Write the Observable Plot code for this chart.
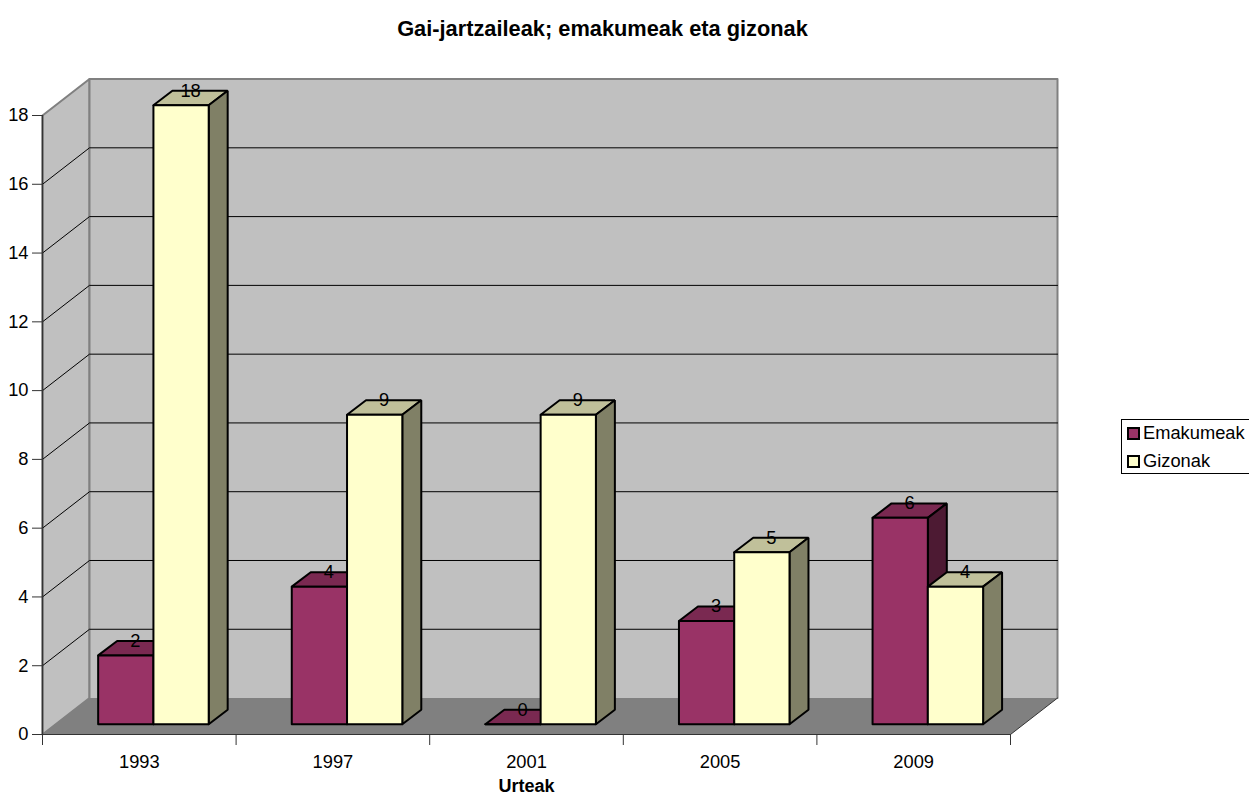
<!DOCTYPE html>
<html><head><meta charset="utf-8">
<script src="https://cdn.jsdelivr.net/npm/d3@7"></script>
<script src="https://cdn.jsdelivr.net/npm/@observablehq/plot@0.6"></script>
<style>
html,body{margin:0;padding:0;background:#fff;overflow:hidden;font-family:"Liberation Sans",Arial,sans-serif;color:#000}
#wrap{position:relative;width:1249px;height:794px}
#title{height:50px;box-sizing:border-box;padding-top:17px;width:1205px;text-align:center;font-weight:bold;font-size:21.8px;line-height:24px;white-space:nowrap}
#legend{position:absolute;left:1121px;top:419px;width:128px;height:55px;box-sizing:border-box;border:1px solid #000;border-right:none;font-size:18.3px;background:#fff}
.row{position:absolute;left:5px;display:flex;align-items:center;height:20px;white-space:nowrap}
.sw{display:inline-block;width:13px;height:13px;box-sizing:border-box;border:2px solid #000;margin-right:3px}
svg{display:block}
</style></head><body>
<div id="wrap">
<div id="title">Gai-jartzaileak; emakumeak eta gizonak</div>
<div id="chart"></div>
<div id="legend"></div>
</div>
<script>
const years = ["1993","1997","2001","2005","2009"];
const emakumeak = [2,4,0,3,6];
const gizonak = [18,9,9,5,4];
const seriesNames = ["Emakumeak","Gizonak"];
const yTicks = [0,2,4,6,8,10,12,14,16,18];
const gridLevels = [2,4,6,8,10,12,14,16];
const colFront = ["#993366","#FFFFCC"];
const colTop = ["#7A2951","#C0C09A"];
const colSide = ["#4D1A33","#808066"];

// depth of the plot box and of a bar, in data units
const wallX = 0.2428, wallY = 1.06;
const barDX = 0.098, barDY = 0.42;
const barStart = 0.2875, barW = 0.2855, floorY = 0.3;
const n = years.length, yMax = 18;

const poly = (id, fill, pts) => pts.map(([x,y]) => ({id, fill, x, y}));

const backdrop = [
  ...poly("left","#C0C0C0",[[0,0],[wallX,wallY],[wallX,yMax+wallY],[0,yMax],[0,0]]),
  ...poly("back","#C0C0C0",[[wallX,wallY],[wallX,yMax+wallY],[n+wallX,yMax+wallY],[n+wallX,wallY]])
];
const floor = poly("floor","#808080",[[0,0],[wallX,wallY],[n+wallX,wallY],[n,0],[0,0]]);
const grid = gridLevels.flatMap(v => poly("g"+v,"none",[[0,v],[wallX,v+wallY],[n+wallX,v+wallY]]));

const faces = [], labels = [];
years.forEach((yr,i) => {
  [emakumeak[i],gizonak[i]].forEach((v,s) => {
    const x0 = i+barStart+s*barW, x1 = x0+barW, y0 = floorY, y1 = v+floorY;
    faces.push(...poly(`${i}-${s}-t`,colTop[s],[[x0,y1],[x0+barDX,y1+barDY],[x1+barDX,y1+barDY],[x1,y1],[x0,y1]]));
    faces.push(...poly(`${i}-${s}-s`,colSide[s],[[x1,y0],[x1+barDX,y0+barDY],[x1+barDX,y1+barDY],[x1,y1],[x1,y0]]));
    faces.push(...poly(`${i}-${s}-f`,colFront[s],[[x0,y0],[x1,y0],[x1,y1],[x0,y1],[x0,y0]]));
    labels.push({x:(x0+x1+barDX)/2, y:y1+barDY, v:String(v)});
  });
});

const FS = 18.3;
const pl = Plot.plot({
  width:1249, height:744,
  marginLeft:42, marginRight:239, marginTop:65, marginBottom:60,
  x:{domain:[0,n]}, y:{domain:[0,yMax]},
  style:{fontFamily:'"Liberation Sans",Arial,sans-serif',background:"#fff",overflow:"visible"},
  marks:[
    Plot.line(backdrop,{x:"x",y:"y",z:"id",fill:"fill",stroke:"#808080",strokeWidth:2}),
    Plot.line(floor,{x:"x",y:"y",z:"id",fill:"fill",stroke:"none"}),
    Plot.line(grid,{x:"x",y:"y",z:"id",stroke:"#000",strokeWidth:1}),
    Plot.line(poly("fe","none",[[n+wallX,wallY],[n,0]]),{x:"x",y:"y",z:"id",stroke:"#333",strokeWidth:1}),
    Plot.ruleY([0],{x1:0,x2:n,stroke:"#333",strokeWidth:1}),
    Plot.ruleX([0],{y1:0,y2:yMax,stroke:"#333",strokeWidth:1.5}),
    Plot.axisY({ticks:yTicks,tickSize:10,tickPadding:4,fontSize:FS,label:null,stroke:"#333",strokeOpacity:1,fill:"#000",textStroke:"none"}),
    Plot.axisX({ticks:d3.range(0,n+1),tickSize:11,tickFormat:()=>"",label:null,strokeOpacity:1,stroke:"#333"}),
    Plot.axisX({ticks:years.map((_,i)=>i+0.5),tickSize:0,tickPadding:20,tickFormat:d=>years[d-0.5],fontSize:FS,label:"Urteak",labelAnchor:"center",labelArrow:"none",labelOffset:57,fontWeight:"normal"}),
    Plot.line(faces,{x:"x",y:"y",z:"id",fill:"fill",stroke:"#000",strokeWidth:2,strokeLinejoin:"miter"}),
    Plot.text(labels,{x:"x",y:"y",text:"v",fontSize:FS,fill:"#000"})
  ]
});
document.getElementById("chart").appendChild(pl);

// bold axis title
d3.select(pl).selectAll("text").filter(function(){return this.textContent.trim()==="Urteak"})
  .attr("font-weight","bold").attr("font-size",18);

const lg = document.getElementById("legend");
seriesNames.forEach((nm,i)=>{
  const r=document.createElement("div");r.className="row";r.style.top=(i===0?3:31)+"px";
  r.innerHTML=`<span class="sw" style="background:${colFront[i]}"></span><span>${nm}</span>`;
  lg.appendChild(r);
});
</script>
</body></html>
